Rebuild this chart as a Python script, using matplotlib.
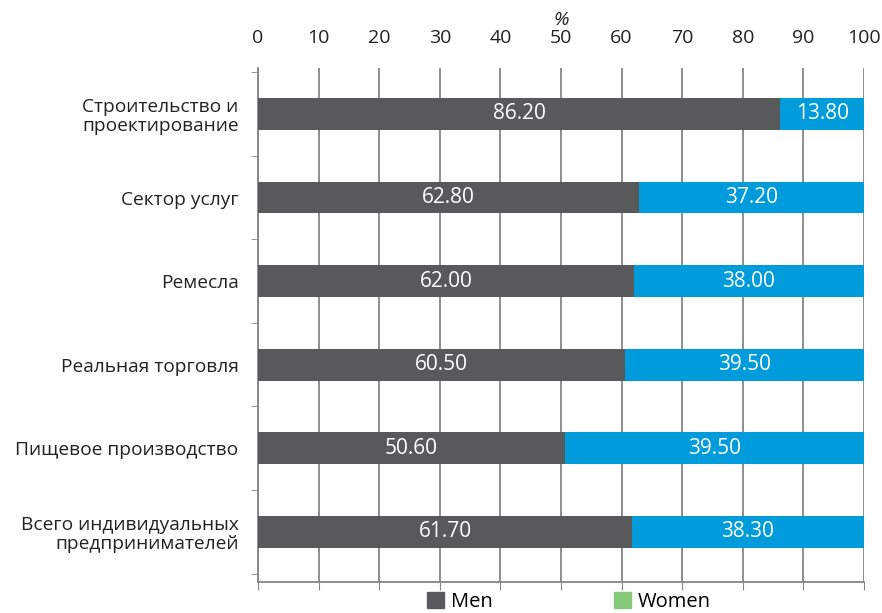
import numpy as np
import matplotlib
matplotlib.use("Agg")
import matplotlib.pyplot as plt
from matplotlib.patches import Patch

plt.rcParams['font.family'] = ['Open Sans', 'DejaVu Sans']

categories = ["Строительство и\nпроектирование", "Сектор услуг", "Ремесла",
              "Реальная торговля", "Пищевое производство",
              "Всего индивидуальных\nпредпринимателей"]
men = [86.2, 62.8, 62.0, 60.5, 50.6, 61.7]
women = [13.8, 37.2, 38.0, 39.5, 49.4, 38.3]
men_labels = ["86.20", "62.80", "62.00", "60.50", "50.60", "61.70"]
women_labels = ["13.80", "37.20", "38.00", "39.50", "39.50", "38.30"]
xticks = list(range(0, 101, 10))

men_color = "#58595b"
women_color = "#009bdb"
legend_women = "#86c87a"
grid_color = "#858585"

fig = plt.figure(figsize=(8.82, 6.13), dpi=100)
ax = fig.add_axes([0.2925, 0.0506, 0.6871, 0.8385])

y = np.arange(len(categories))
ax.barh(y, men, height=0.38, color=men_color, zorder=3)
ax.barh(y, women, left=men, height=0.38, color=women_color, zorder=3)

for i in range(len(categories)):
    ax.text(men[i] / 2, y[i], men_labels[i], ha="center", va="center",
            color="white", fontsize=15, zorder=4)
    ax.text(men[i] + women[i] / 2, y[i], women_labels[i], ha="center",
            va="center", color="white", fontsize=15, zorder=4)

ax.set_xlim(0, 100)
ax.set_ylim(5.6, -0.55)
ax.set_xticks(xticks)
ax.xaxis.set_ticks_position("both")
ax.tick_params(axis="x", top=False, bottom=True, labeltop=True,
               labelbottom=False, length=6, color=grid_color, pad=9,
               labelsize=14, labelcolor="#222222")
ax.set_yticks(y)
ax.set_yticklabels(categories, linespacing=1.1)
ax.set_yticks(np.arange(-0.5, 6.0, 1.0), minor=True)
ax.tick_params(axis="y", which="major", length=0, pad=14, labelsize=13.8,
               labelcolor="#222222")
ax.tick_params(axis="y", which="minor", length=5, color=grid_color)

ax.grid(axis="x", color=grid_color, lw=1.3, zorder=0)
ax.set_axisbelow(True)
for s in ["top", "right"]:
    ax.spines[s].set_visible(False)
for s in ["left", "bottom"]:
    ax.spines[s].set_color(grid_color)
    ax.spines[s].set_linewidth(1.3)

fig.text(0.636, 0.968, "%", ha="center", va="center", fontsize=14,
         style="italic", color="#222222")

handles = [Patch(color=men_color, label="Men"),
           Patch(color=legend_women, label="Women")]
fig.legend(handles=handles, loc="center", bbox_to_anchor=(0.645, 0.018),
           ncol=2, frameon=False, fontsize=14.5, handlelength=0.85,
           handleheight=0.85, handletextpad=0.35, columnspacing=6,
           borderpad=0.1)

fig.savefig("out.png", dpi=100)
